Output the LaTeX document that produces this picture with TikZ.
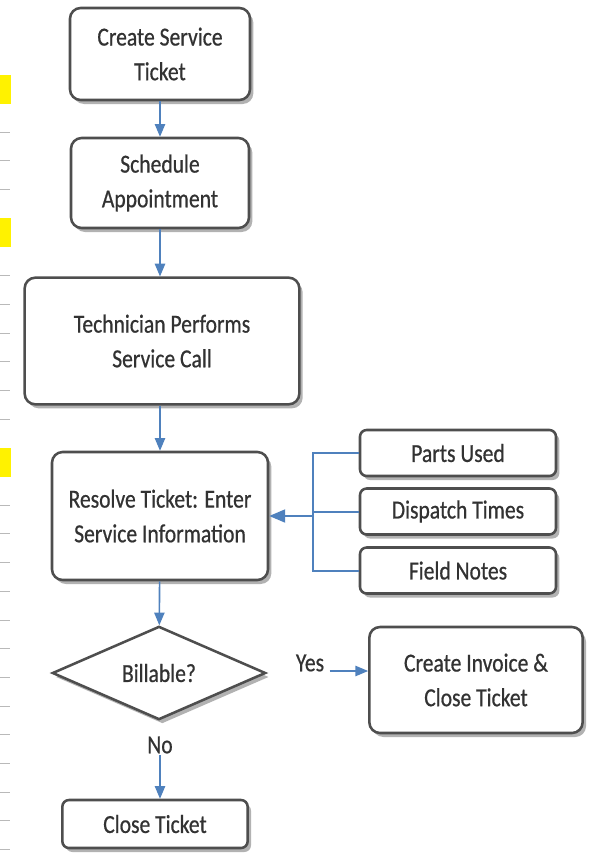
\documentclass[tikz,border=0pt]{standalone}
\usepackage{fontspec}
\newfontfamily\chartfont{Carlito}[FakeStretch=0.83, FakeBold=0.6]
\usepackage{tikz}
\usetikzlibrary{arrows,shapes.geometric,shadows}
\definecolor{flowblue}{RGB}{79,129,189}
\definecolor{boxline}{RGB}{78,78,78}
\definecolor{boxtext}{RGB}{50,50,50}

\begin{document}
\begin{tikzpicture}[x=0.75pt, y=0.75pt,
		box/.style={draw=boxline, line width=1.9pt, rounded corners=8pt, fill=white, align=center, text=boxtext, inner sep=0pt,
			font=\chartfont\fontsize{19.5}{26}\selectfont, drop shadow={shadow xshift=2.5pt, shadow yshift=-3pt, fill=black!60}},
		small box/.style={box, rounded corners=5pt, minimum width=147pt, minimum height=34.5pt},
		decision/.style={box, diamond, rounded corners=0pt, aspect=2.3, minimum width=160pt, minimum height=70pt},
		tag/.style={text=boxtext, font=\chartfont\fontsize{19.5}{26}\selectfont, inner sep=1pt},
		flow/.style={->, >=triangle 45, draw=flowblue, line width=1.2pt},
		link/.style={draw=flowblue, line width=1.5pt}]
		\useasboundingbox (0,0) rectangle (593,-853);
		% page margin left over from the source document
		\foreach \k in {0,1,2,5,6,7,8,9,10,13,14,15,16,17,18,19,20,21,22,23,24,25}
			\draw[gray!55, line width=0.6pt] (0,-132-28.7*\k) -- (10,-132-28.7*\k);
		\foreach \ytop in {75,218,448}
			\fill[yellow] (0,-\ytop) rectangle (11,-\ytop-29);
		
		\node[box, minimum width=135pt, minimum height=69pt] (create) at (160,-54) {Create Service\\Ticket};
		\node[box, minimum width=133.5pt, minimum height=67.5pt] (schedule) at (160,-183) {Schedule\\Appointment};
		\node[box, minimum width=206pt, minimum height=95pt] (technician) at (162,-341) {Technician Performs\\Service Call};
		\node[box, minimum width=162pt, minimum height=96pt] (resolve) at (160,-516) {Resolve Ticket: Enter\\Service Information};
		\node[small box] (parts) at (458,-453) {Parts Used};
		\node[small box] (dispatch) at (458,-511.5) {Dispatch Times};
		\node[small box] (notes) at (458,-570.5) {Field Notes};
		\node[decision] (billable) at (159,-673) {Billable?};
		\node[box, minimum width=160pt, minimum height=79.5pt] (invoice) at (476,-680) {Create Invoice \&\\Close Ticket};
		\node[tag] (yes) at (310,-663) {Yes};
		\node[tag] (no) at (160,-745) {No};
		\node[box, rounded corners=5pt, minimum width=139pt, minimum height=36pt] (close) at (155,-824) {Close Ticket};
		\coordinate (bus) at (313,-516);
		
		\draw[flow] (create) -- (schedule);
		\draw[flow] (schedule.south) -- (schedule.south |- technician.north);
		\draw[flow] (resolve.north |- technician.south) -- (resolve.north);
		\draw[flow] (resolve) -- (billable);
		\draw[link] (parts.west) -| (bus) |- (notes.west);
		\draw[link] (dispatch.west) -- (dispatch.west -| bus);
		\draw[flow, line width=1.8pt] (bus) -- (resolve.east);
		\draw[flow] ([xshift=3pt, yshift=-6pt]yes.east) -- ([yshift=-6pt]yes.east -| invoice.west);
		\draw[flow] (no.south) -- (no.south |- close.north);
	\end{tikzpicture}
\end{document}
